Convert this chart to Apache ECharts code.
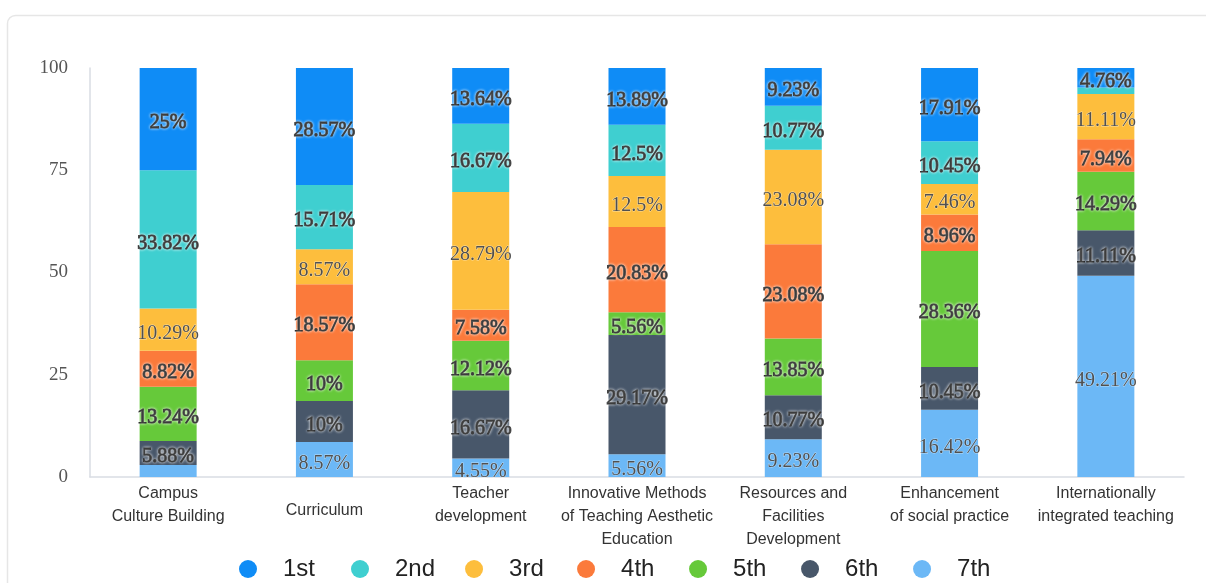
<!DOCTYPE html>
<html>
<head>
<meta charset="utf-8">
<style>
  html, body { margin: 0; padding: 0; background: #fff; }
  #chart { width: 1206px; height: 583px; }
</style>
<script src="https://cdn.jsdelivr.net/npm/echarts@6/dist/echarts.min.js"></script>
</head>
<body>
<div id="chart"></div>
<script>
// Categories along the x axis
const categories = [
  'Campus\nCulture Building',
  'Curriculum',
  'Teacher\ndevelopment',
  'Innovative Methods\nof Teaching Aesthetic\nEducation',
  'Resources and\nFacilities\nDevelopment',
  'Enhancement\nof social practice',
  'Internationally\nintegrated teaching'
];

// Share (%) of each ranking per category
const rank1 = [25, 28.57, 13.64, 13.89, 9.23, 17.91, 4.76];
const rank2 = [33.82, 15.71, 16.67, 12.5, 10.77, 10.45, 1.59];
const rank3 = [10.29, 8.57, 28.79, 12.5, 23.08, 7.46, 11.11];
const rank4 = [8.82, 18.57, 7.58, 20.83, 23.08, 8.96, 7.94];
const rank5 = [13.24, 10, 12.12, 5.56, 13.85, 28.36, 14.29];
const rank6 = [5.88, 10, 16.67, 29.17, 10.77, 10.45, 11.11];
const rank7 = [2.94, 8.57, 4.55, 5.56, 9.23, 16.42, 49.21];

const rankNames = ['1st', '2nd', '3rd', '4th', '5th', '6th', '7th'];
const rankValues = [rank1, rank2, rank3, rank4, rank5, rank6, rank7];
const rankColors = ['#0f8cf6', '#3fcfd0', '#fdbe3d', '#fb7a3b', '#66c93a', '#48576a', '#6cb8f6'];
const yTicks = [0, 25, 50, 75, 100];

const serif = "'Liberation Serif', 'Times New Roman', serif";
const sans = "'Liberation Sans', Arial, sans-serif";

// Labels on dark fills get an outlined look; light fills use plain grey text
const outlined = { color: '#3c3c3c', textBorderColor: '#0a0a0a', textBorderWidth: 0.9,
                   textShadowColor: 'rgba(255,255,255,0.9)', textShadowBlur: 3 };
const plain = { color: '#505050', textBorderColor: 'rgba(255,255,255,0.5)', textBorderWidth: 1 };

// 7th sits at the bottom of every stack, 1st on top
const series = [];
for (let i = rankNames.length - 1; i >= 0; i--) {
  const light = (i === 2 || i === 6);
  series.push({
    name: rankNames[i],
    type: 'bar',
    stack: 'rank',
    barWidth: 57,
    itemStyle: { color: rankColors[i] },
    data: rankValues[i],
    label: Object.assign({
      show: true,
      position: 'inside',
      offset: [0, 4],
      fontFamily: serif,
      fontWeight: 'normal',
      fontSize: 20,
      formatter: p => (p.value >= 3 ? p.value + '%' : '')
    }, light ? plain : outlined)
  });
}

const chart = echarts.init(document.getElementById('chart'), null, { renderer: 'canvas' });
chart.setOption({
  animation: false,
  backgroundColor: '#fff',
  graphic: [{
    type: 'rect',
    left: 5, top: 13, z: -10,
    shape: { width: 1260, height: 640, r: 8 },
    style: { fill: 'none', stroke: '#e6e6e6', lineWidth: 1.5 }
  }],
  legend: {
    data: rankNames,
    left: 234,
    top: 551,
    icon: 'circle',
    itemWidth: 18,
    itemHeight: 18,
    itemGap: 30,
    textStyle: {
      fontFamily: sans,
      fontSize: 24,
      lineHeight: 26,
      color: '#222',
      width: 38,
      padding: [0, 0, 0, 21]
    }
  },
  grid: { left: 90, right: 22, top: 68, bottom: 106, containLabel: false },
  xAxis: {
    type: 'category',
    data: categories,
    axisLine: { lineStyle: { color: '#d9dde3', width: 1.5 } },
    axisTick: { show: false },
    axisLabel: {
      interval: 0,
      margin: 5,
      color: '#333',
      fontFamily: sans,
      fontSize: 16,
      lineHeight: 23,
      formatter: v => (v.indexOf('\n') < 0 ? '{one|' + v + '}' : v),
      rich: {
        one: { fontFamily: sans, fontSize: 16, color: '#333', lineHeight: 23,
               padding: [34, 0, 0, 0] }
      }
    }
  },
  yAxis: {
    type: 'value',
    min: yTicks[0],
    max: yTicks[yTicks.length - 1],
    interval: yTicks[1] - yTicks[0],
    axisLine: { show: true, lineStyle: { color: '#d9dde3', width: 1.5 } },
    axisTick: { show: false },
    splitLine: { show: false },
    axisLabel: {
      margin: 22,
      color: '#555',
      fontFamily: serif,
      fontSize: 19
    }
  },
  series: series
});
</script>
</body>
</html>
